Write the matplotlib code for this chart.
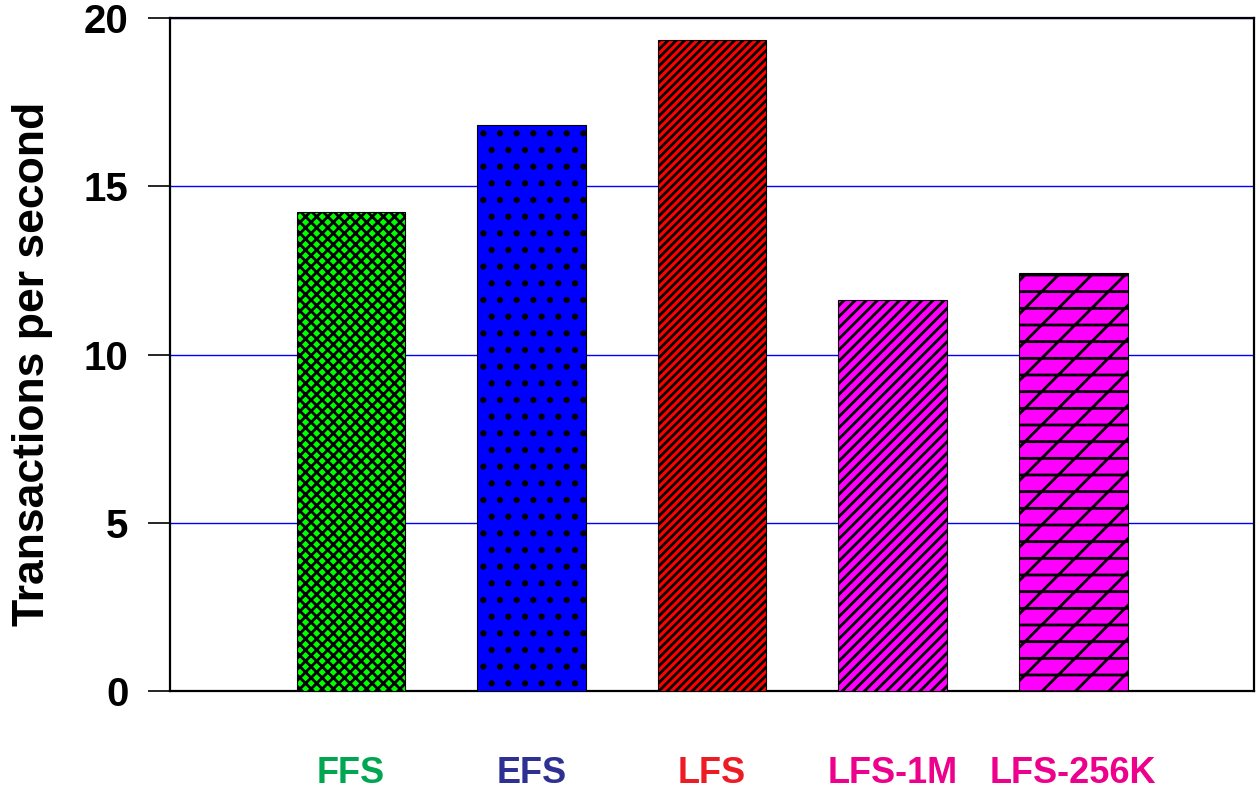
import matplotlib
matplotlib.use("Agg")
import matplotlib.pyplot as plt

categories = ["FFS", "EFS", "LFS", "LFS-1M", "LFS-256K"]
tps = [14.23, 16.82, 19.35, 11.61, 12.41]
bar_colors = ["#00FF00", "#0000FF", "#FF0000", "#FF00FF", "#FF00FF"]
bar_hatches = ["xxx", ".", "////", "///", "-/"]
label_colors = ["#00A650", "#2E3192", "#ED1C24", "#EC008C", "#EC008C"]
y_ticks = [0, 5, 10, 15, 20]

plt.rcParams["hatch.linewidth"] = 2.0

fig = plt.figure(figsize=(12.56, 7.93), dpi=100)
ax = fig.add_axes([0.1354, 0.1286, 0.863, 0.8487])

x = list(range(len(categories)))
for xi, v, fc, h in zip(x, tps, bar_colors, bar_hatches):
    ax.bar(xi, v, width=0.6, color=fc, edgecolor="black", hatch=h,
           linewidth=0.8, zorder=3)

ax.set_xlim(-1, 5)
ax.set_ylim(0, 20)
ax.set_yticks(y_ticks)
ax.yaxis.grid(True, color="#0000FF", linewidth=1.0, zorder=0)
ax.set_axisbelow(True)

for s in ax.spines.values():
    s.set_color("black")
    s.set_linewidth(1.6)

sans = ["Liberation Sans", "DejaVu Sans"]
ax.tick_params(axis="y", direction="out", length=16, width=1.2, pad=14)
for t in ax.get_yticklabels():
    t.set_fontfamily(sans)
    t.set_fontweight("bold")
    t.set_fontsize(29)

ax.set_xticks(x)
ax.set_xticklabels(categories)
ax.tick_params(axis="x", length=0, pad=47)
for t, c in zip(ax.get_xticklabels(), label_colors):
    t.set_color(c)
    t.set_fontfamily(sans)
    t.set_fontweight("bold")
    t.set_fontsize(26)

ax.set_ylabel("Transactions per second", fontsize=32, fontweight="bold",
              family=sans)
ax.yaxis.set_label_coords(-0.108, 0.486)

fig.savefig("out.png", dpi=100)
